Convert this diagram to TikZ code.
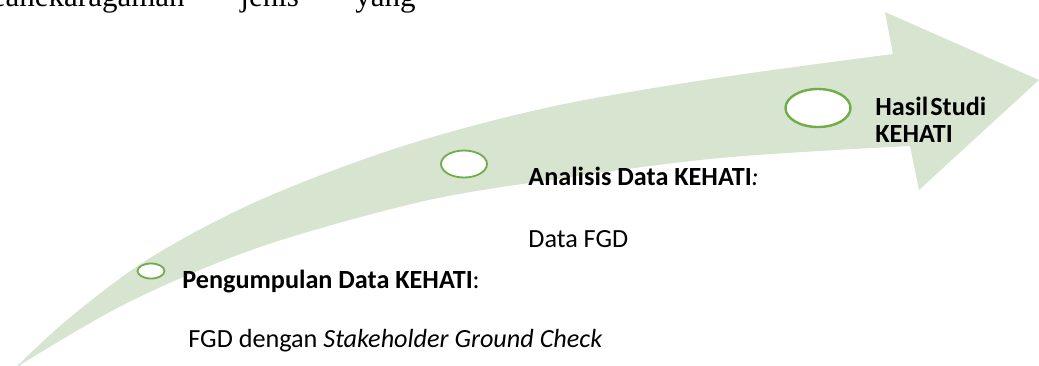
\documentclass[tikz,border=0pt]{standalone}
\usepackage{fontspec}
\setmainfont{Carlito}
\newfontfamily\bodyserif{Liberation Serif}
\usetikzlibrary{shapes.geometric}
\definecolor{arrowfill}{RGB}{215,228,208}
\definecolor{ringgreen}{RGB}{112,173,71}
\tikzset{
  ring/.style={ellipse, draw=ringgreen, fill=white, inner sep=0pt},
  steplabel/.style={anchor=base west, inner sep=0pt, font=\fontsize{13.1}{16}\selectfont},
  bodytext/.style={anchor=base west, inner sep=0pt, font=\bodyserif\fontsize{15.5}{18}\selectfont}
}
\begin{document}
\begin{tikzpicture}[x=0.5pt, y=-0.5pt]
\useasboundingbox (0,0) rectangle (1039,365);
\clip (0,0) rectangle (1039,365);

% running text of the page above the figure
\node[bodytext] (w1) at (-24,6) {keanekaragaman};
\node[bodytext] (w2) at (240,6) {jenis};
\node[bodytext] (w3) at (355,6) {yang};

% curved progress arrow
\fill[arrowfill]
  plot[smooth, tension=0.55] coordinates {(8,375) (67,320) (150,258) (260,200) (400,147) (550,107) (717,78) (893,54)}
  -- (885,12) -- (1039,80) -- (919,190) -- (910,146)
  -- plot[smooth, tension=0.55] coordinates {(910,146) (720,158) (550,180) (420,202) (260,247) (133,300) (33,357) (8,375)}
  -- cycle;

% stage markers
\node[ring, line width=0.9pt, minimum width=13.5pt, minimum height=7.5pt] (s1) at (151,271) {};
\node[ring, line width=0.9pt, minimum width=23pt, minimum height=13.5pt] (s2) at (464,164) {};
\node[ring, line width=1.2pt, minimum width=32.5pt, minimum height=19pt] (s3) at (818,108) {};

% stage labels
\node[steplabel] (t1) at (182,288) {\textbf{Pengumpulan Data KEHATI}:};
\node[steplabel] (d1) at (188,347) {FGD dengan \textit{Stakeholder Ground Check}};
\node[steplabel] (t2) at (528,185) {\textbf{Analisis Data KEHATI}\textit{:}};
\node[steplabel] (d2) at (528,247) {Data FGD};
\node[steplabel] (t3) at (875,115) {\textbf{Hasil\hspace{0.08em}Studi}};
\node[steplabel] (t3b) at (875,142) {\textbf{KEHATI}};
\end{tikzpicture}
\end{document}
